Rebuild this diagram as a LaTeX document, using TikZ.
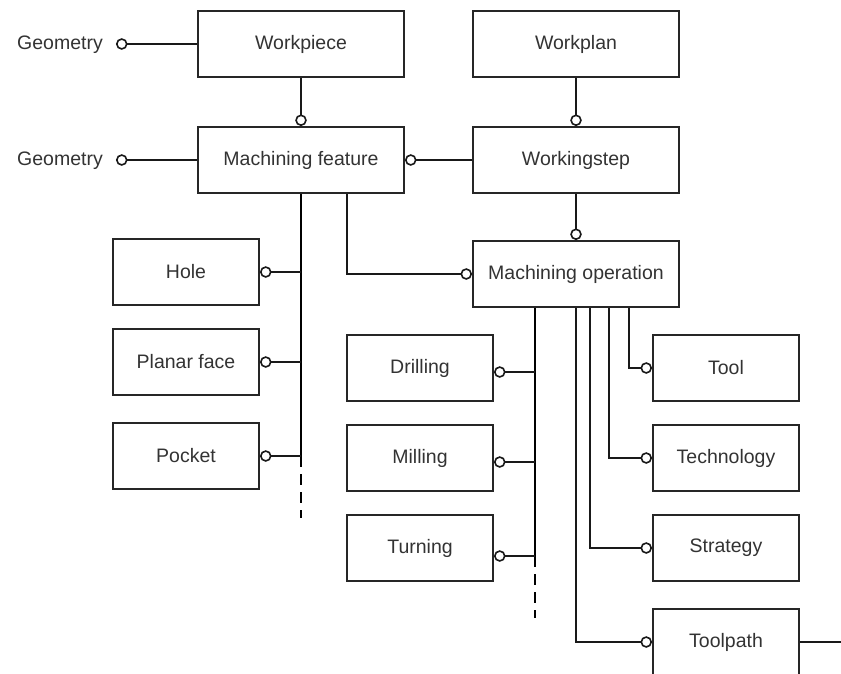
\documentclass[tikz,border=0pt]{standalone}
\usepackage{fontspec}
\setmainfont{Liberation Sans}
\usetikzlibrary{arrows.meta}
\begin{document}
\begin{tikzpicture}[x=1pt,y=-1pt,
  every node/.style={font=\fontsize{19.5}{23}\selectfont, text=black!80},
  box/.style={draw=black!85, line width=2pt, rectangle, inner sep=0pt, minimum width=206pt, minimum height=66pt},
  sbox/.style={box, minimum width=146pt},
  conn/.style={draw=black!90, line width=2pt},
  oc/.style={conn, -{Circle[open, length=11.5pt, width=11.5pt, line width=1.6pt]}},
  co/.style={conn, {Circle[open, length=11.5pt, width=11.5pt, line width=1.6pt]}-},
  busline/.style={draw=black, line width=2pt},
  dashbus/.style={busline, dash pattern=on 11pt off 7pt}
]
\useasboundingbox (0,0) rectangle (841,673);
\clip (0,0) rectangle (841,673);
\fill[white] (0,0) rectangle (841,673);

% boxes
\node[box] (wp)  at (301,44) {Workpiece};
\node[box] (mf)  at (301,160) {Machining feature};
\node[box] (wpl) at (576,44) {Workplan};
\node[box] (ws)  at (576,160) {Workingstep};
\node[box] (mo)  at (576,274) {Machining operation};

\node[sbox] (hole)   at (186,272) {Hole};
\node[sbox] (pf)     at (186,362) {Planar face};
\node[sbox] (pocket) at (186,456) {Pocket};

\node[sbox] (drill) at (420,368) {Drilling};
\node[sbox] (mill)  at (420,458) {Milling};
\node[sbox] (turn)  at (420,548) {Turning};

\node[sbox] (tool)  at (726,368) {Tool};
\node[sbox] (tech)  at (726,458) {Technology};
\node[sbox] (strat) at (726,548) {Strategy};
\node[sbox] (tpath) at (726,642) {Toolpath};

% geometry labels
\node[anchor=east, inner sep=0pt] (geo1) at (103,45) {Geometry};
\node[anchor=east, inner sep=0pt] (geo2) at (103,161) {Geometry};
\coordinate (g1) at (116,44);
\coordinate (g2) at (116,160);
\path[co] (g1) -- (g1 -| wp.west);
\path[co] (g2) -- (g2 -| mf.west);

% top connectors
\path[oc] (wp.south) -- (mf.north);
\path[oc] (wpl.south) -- (ws.north);
\path[oc] (ws.west) -- (mf.east);
\path[oc] (ws.south) -- (mo.north);
\path[oc] ([xshift=46pt]mf.south) |- (mo.west);

% machining feature bus
\coordinate (mfbus) at (mf.south);
\path[busline] (mfbus) -- (mfbus |- pocket.east);
\path[dashbus] (mfbus |- pocket.east) -- ++(0,62);
\path[co] (hole.east) -- (hole.east -| mfbus);
\path[co] (pf.east) -- (pf.east -| mfbus);
\path[co] (pocket.east) -- (pocket.east -| mfbus);

% machining operation bus
\coordinate (mobus) at ([xshift=-41pt]mo.south);
\path[busline] (mobus) -- ([yshift=-8pt]mobus |- turn.east);
\path[dashbus] ([yshift=-8pt]mobus |- turn.east) -- ++(0,62);
\path[co] ([yshift=-4pt]drill.east) -- ([yshift=-4pt]drill.east -| mobus);
\path[co] ([yshift=-4pt]mill.east) -- ([yshift=-4pt]mill.east -| mobus);
\path[co] ([yshift=-8pt]turn.east) -- ([yshift=-8pt]turn.east -| mobus);

% resources
\path[oc] ([xshift=53pt]mo.south) |- (tool.west);
\path[oc] ([xshift=33pt]mo.south) |- (tech.west);
\path[oc] ([xshift=14pt]mo.south) |- (strat.west);
\path[oc] (mo.south) |- (tpath.west);
\coordinate (tpend) at (845,642);
\path[conn] (tpath.east) -- (tpend);
\end{tikzpicture}
\end{document}
